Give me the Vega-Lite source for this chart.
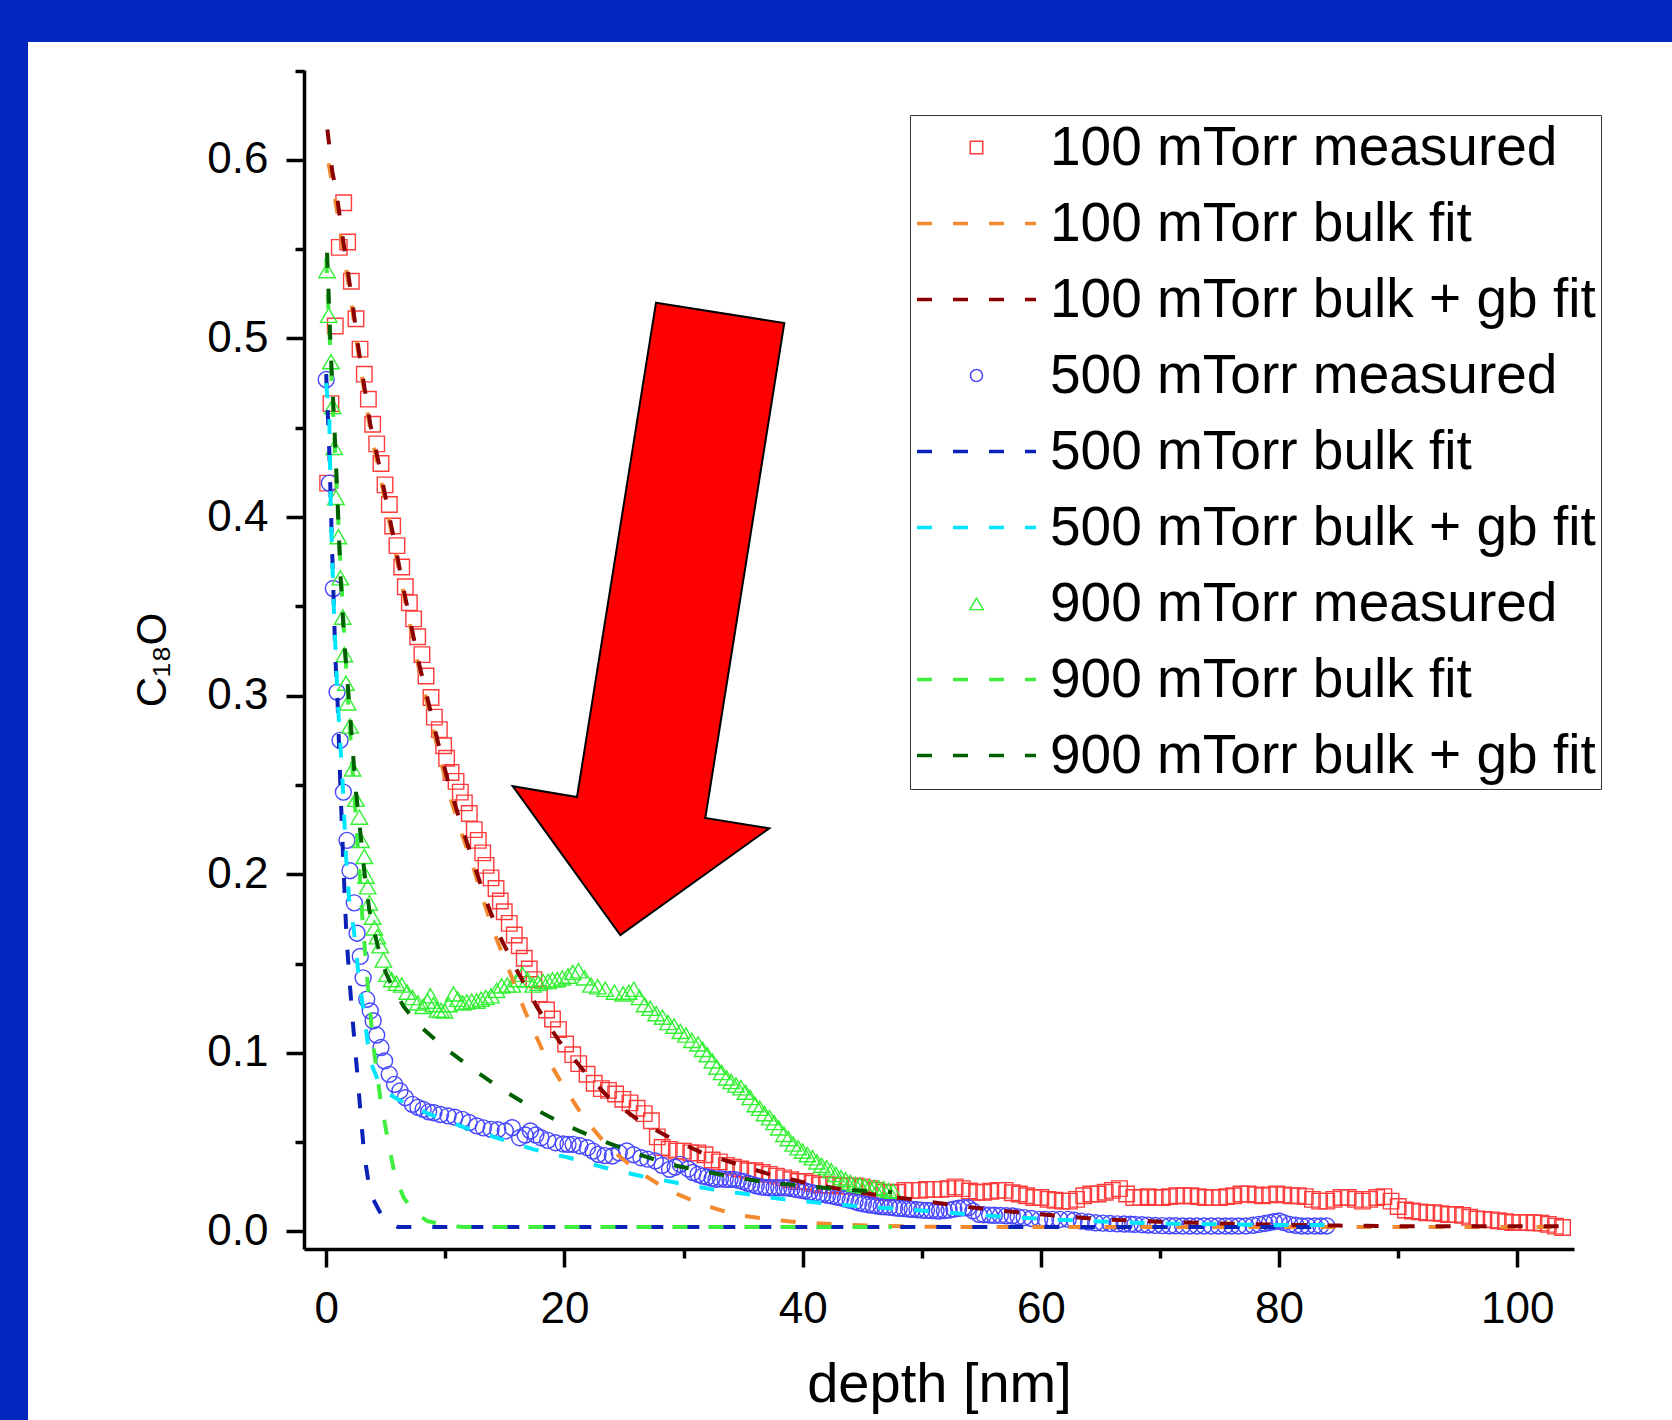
{
"$schema": "https://vega.github.io/schema/vega-lite/v6.json",
"background": "white",
"padding": 0,
"spacing": 0,
"config": {"view": {"stroke": null}, "font": "Liberation Sans"},
"hconcat": [
{"width": 28, "height": 1420, "data": {"values": []}, "mark": "point", "view": {"fill": "#0428bf", "stroke": null}},
{"spacing": 27, "vconcat": [
{"width": 1644, "height": 42, "data": {"values": []}, "mark": "point", "view": {"fill": "#0428bf", "stroke": null}},
{"spacing": 0, "hconcat": [
{"width": 103, "height": 10, "data": {"values": []}, "mark": "point", "view": {"stroke": null}},
{
"width": 1270, "height": 1179,
"resolve": {"axis": {"x": "independent", "y": "independent"}},
"layer": [
{
"data": {"values": [
{"s":"m1","d":0.12,"c":0.419},{"s":"m1","d":0.40,"c":0.4635},{"s":"m1","d":0.76,"c":0.507},{"s":"m1","d":1.10,"c":0.551},{"s":"m1","d":1.47,"c":0.576},{"s":"m1","d":1.80,"c":0.554},{"s":"m1","d":2.11,"c":0.532},{"s":"m1","d":2.50,"c":0.511},{"s":"m1","d":2.84,"c":0.494},{"s":"m1","d":3.20,"c":0.480},{"s":"m1","d":3.54,"c":0.466},{"s":"m1","d":3.90,"c":0.452},{"s":"m1","d":4.24,"c":0.441},{"s":"m1","d":4.60,"c":0.430},{"s":"m1","d":4.94,"c":0.418},{"s":"m1","d":5.30,"c":0.407},{"s":"m1","d":5.58,"c":0.395},{"s":"m1","d":5.94,"c":0.384},{"s":"m1","d":6.34,"c":0.372},{"s":"m1","d":6.64,"c":0.361},{"s":"m1","d":6.98,"c":0.352},{"s":"m1","d":7.34,"c":0.343},{"s":"m1","d":7.68,"c":0.333},{"s":"m1","d":8.04,"c":0.323},{"s":"m1","d":8.38,"c":0.311},{"s":"m1","d":8.80,"c":0.299},{"s":"m1","d":9.08,"c":0.288},{"s":"m1","d":9.50,"c":0.281},{"s":"m1","d":9.86,"c":0.272},{"s":"m1","d":10.11,"c":0.265},{"s":"m1","d":10.48,"c":0.257},{"s":"m1","d":10.9,"c":0.252},{"s":"m1","d":11.26,"c":0.246},{"s":"m1","d":11.6,"c":0.240},{"s":"m1","d":12.01,"c":0.234},{"s":"m1","d":12.43,"c":0.225},{"s":"m1","d":12.77,"c":0.219},{"s":"m1","d":13.14,"c":0.212},{"s":"m1","d":13.42,"c":0.205},{"s":"m1","d":13.84,"c":0.198},{"s":"m1","d":14.26,"c":0.192},{"s":"m1","d":14.62,"c":0.185},{"s":"m1","d":14.95,"c":0.179},{"s":"m1","d":15.37,"c":0.1725},{"s":"m1","d":15.79,"c":0.166},{"s":"m1","d":16.21,"c":0.160},{"s":"m1","d":16.63,"c":0.153},{"s":"m1","d":17.05,"c":0.147},{"s":"m1","d":17.44,"c":0.141},{"s":"m1","d":17.9,"c":0.133},{"s":"m1","d":18.5,"c":0.124},{"s":"m1","d":19.0,"c":0.119},{"s":"m1","d":19.5,"c":0.113},{"s":"m1","d":20.1,"c":0.105},{"s":"m1","d":20.7,"c":0.099},{"s":"m1","d":21.2,"c":0.094},{"s":"m1","d":21.9,"c":0.088},{"s":"m1","d":22.5,"c":0.083},{"s":"m1","d":23.1,"c":0.080},{"s":"m1","d":23.7,"c":0.079},{"s":"m1","d":24.3,"c":0.077},{"s":"m1","d":24.9,"c":0.074},{"s":"m1","d":25.5,"c":0.072},{"s":"m1","d":26.1,"c":0.069},{"s":"m1","d":26.7,"c":0.066},{"s":"m1","d":27.3,"c":0.062},{"s":"m1","d":27.8,"c":0.053},{"s":"m1","d":28.2,"c":0.047},{"s":"m1","d":28.8,"c":0.046},{"s":"m1","d":29.4,"c":0.045},{"s":"m1","d":30.0,"c":0.045},{"s":"m1","d":30.6,"c":0.044},{"s":"m1","d":31.2,"c":0.044},{"s":"m1","d":31.8,"c":0.043},{"s":"m1","d":32.4,"c":0.040},{"s":"m1","d":33.0,"c":0.039},{"s":"m1","d":33.6,"c":0.037},{"s":"m1","d":34.2,"c":0.036},{"s":"m1","d":34.8,"c":0.035},{"s":"m1","d":35.4,"c":0.034},{"s":"m1","d":36.0,"c":0.034},{"s":"m1","d":36.6,"c":0.033},{"s":"m1","d":37.2,"c":0.032},{"s":"m1","d":37.8,"c":0.031},{"s":"m1","d":38.4,"c":0.030},{"s":"m1","d":39.0,"c":0.029},{"s":"m1","d":39.6,"c":0.028},{"s":"m1","d":40.2,"c":0.028},{"s":"m1","d":40.8,"c":0.027},{"s":"m1","d":41.4,"c":0.026},{"s":"m1","d":42.0,"c":0.026},{"s":"m1","d":42.6,"c":0.026},{"s":"m1","d":43.2,"c":0.0255},{"s":"m1","d":43.8,"c":0.0255},{"s":"m1","d":44.4,"c":0.0255},{"s":"m1","d":45.0,"c":0.025},{"s":"m1","d":45.6,"c":0.024},{"s":"m1","d":46.2,"c":0.023},{"s":"m1","d":46.8,"c":0.022},{"s":"m1","d":47.4,"c":0.0217},{"s":"m1","d":48.0,"c":0.022},{"s":"m1","d":48.6,"c":0.023},{"s":"m1","d":49.2,"c":0.023},{"s":"m1","d":49.8,"c":0.023},{"s":"m1","d":50.4,"c":0.0236},{"s":"m1","d":51.0,"c":0.0236},{"s":"m1","d":51.6,"c":0.0236},{"s":"m1","d":52.2,"c":0.024},{"s":"m1","d":52.8,"c":0.025},{"s":"m1","d":53.4,"c":0.024},{"s":"m1","d":54.0,"c":0.0227},{"s":"m1","d":54.6,"c":0.022},{"s":"m1","d":55.2,"c":0.022},{"s":"m1","d":55.8,"c":0.0225},{"s":"m1","d":56.4,"c":0.023},{"s":"m1","d":57.0,"c":0.023},{"s":"m1","d":57.6,"c":0.0217},{"s":"m1","d":58.2,"c":0.021},{"s":"m1","d":58.8,"c":0.020},{"s":"m1","d":59.4,"c":0.019},{"s":"m1","d":60.0,"c":0.019},{"s":"m1","d":60.6,"c":0.018},{"s":"m1","d":61.2,"c":0.0175},{"s":"m1","d":61.8,"c":0.017},{"s":"m1","d":62.4,"c":0.017},{"s":"m1","d":63.0,"c":0.018},{"s":"m1","d":63.6,"c":0.020},{"s":"m1","d":64.2,"c":0.021},{"s":"m1","d":64.8,"c":0.021},{"s":"m1","d":65.4,"c":0.022},{"s":"m1","d":66.0,"c":0.023},{"s":"m1","d":66.6,"c":0.024},{"s":"m1","d":67.2,"c":0.021},{"s":"m1","d":67.8,"c":0.019},{"s":"m1","d":68.4,"c":0.019},{"s":"m1","d":69.0,"c":0.0195},{"s":"m1","d":69.6,"c":0.019},{"s":"m1","d":70.2,"c":0.019},{"s":"m1","d":70.8,"c":0.0195},{"s":"m1","d":71.4,"c":0.020},{"s":"m1","d":72.0,"c":0.020},{"s":"m1","d":72.6,"c":0.020},{"s":"m1","d":73.2,"c":0.0195},{"s":"m1","d":73.8,"c":0.019},{"s":"m1","d":74.4,"c":0.019},{"s":"m1","d":75.0,"c":0.019},{"s":"m1","d":75.6,"c":0.0195},{"s":"m1","d":76.2,"c":0.020},{"s":"m1","d":76.8,"c":0.021},{"s":"m1","d":77.4,"c":0.021},{"s":"m1","d":78.0,"c":0.0205},{"s":"m1","d":78.6,"c":0.020},{"s":"m1","d":79.2,"c":0.0205},{"s":"m1","d":79.8,"c":0.021},{"s":"m1","d":80.4,"c":0.0205},{"s":"m1","d":81.0,"c":0.020},{"s":"m1","d":81.6,"c":0.020},{"s":"m1","d":82.2,"c":0.0195},{"s":"m1","d":82.8,"c":0.018},{"s":"m1","d":83.4,"c":0.017},{"s":"m1","d":84.0,"c":0.017},{"s":"m1","d":84.6,"c":0.018},{"s":"m1","d":85.2,"c":0.019},{"s":"m1","d":85.8,"c":0.019},{"s":"m1","d":86.4,"c":0.018},{"s":"m1","d":87.0,"c":0.017},{"s":"m1","d":87.6,"c":0.018},{"s":"m1","d":88.2,"c":0.019},{"s":"m1","d":88.8,"c":0.0195},{"s":"m1","d":89.4,"c":0.017},{"s":"m1","d":90.0,"c":0.014},{"s":"m1","d":90.6,"c":0.012},{"s":"m1","d":91.2,"c":0.0115},{"s":"m1","d":91.8,"c":0.011},{"s":"m1","d":92.4,"c":0.0105},{"s":"m1","d":93.0,"c":0.0105},{"s":"m1","d":93.6,"c":0.010},{"s":"m1","d":94.2,"c":0.0095},{"s":"m1","d":94.8,"c":0.0095},{"s":"m1","d":95.4,"c":0.009},{"s":"m1","d":96.0,"c":0.008},{"s":"m1","d":96.6,"c":0.007},{"s":"m1","d":97.2,"c":0.0068},{"s":"m1","d":97.8,"c":0.0065},{"s":"m1","d":98.4,"c":0.006},{"s":"m1","d":99.0,"c":0.0055},{"s":"m1","d":99.6,"c":0.005},{"s":"m1","d":100.2,"c":0.005},{"s":"m1","d":100.8,"c":0.005},{"s":"m1","d":101.4,"c":0.0049},{"s":"m1","d":102.0,"c":0.0047},{"s":"m1","d":102.6,"c":0.004},{"s":"m1","d":103.2,"c":0.003},{"s":"m1","d":103.8,"c":0.0022},
{"s":"m5","d":0.0,"c":0.477},{"s":"m5","d":0.26,"c":0.419},{"s":"m5","d":0.6,"c":0.360},{"s":"m5","d":0.91,"c":0.302},{"s":"m5","d":1.16,"c":0.275},{"s":"m5","d":1.44,"c":0.246},{"s":"m5","d":1.75,"c":0.219},{"s":"m5","d":2.0,"c":0.202},{"s":"m5","d":2.36,"c":0.184},{"s":"m5","d":2.59,"c":0.167},{"s":"m5","d":2.86,"c":0.154},{"s":"m5","d":3.10,"c":0.142},{"s":"m5","d":3.40,"c":0.130},{"s":"m5","d":3.70,"c":0.1235},{"s":"m5","d":3.94,"c":0.118},{"s":"m5","d":4.24,"c":0.110},{"s":"m5","d":4.6,"c":0.103},{"s":"m5","d":4.9,"c":0.0955},{"s":"m5","d":5.29,"c":0.088},{"s":"m5","d":5.74,"c":0.0824},{"s":"m5","d":6.19,"c":0.0787},{"s":"m5","d":6.64,"c":0.0749},{"s":"m5","d":7.24,"c":0.0712},{"s":"m5","d":7.7,"c":0.0695},{"s":"m5","d":8.14,"c":0.0684},{"s":"m5","d":8.6,"c":0.067},{"s":"m5","d":9.04,"c":0.0665},{"s":"m5","d":9.6,"c":0.0655},{"s":"m5","d":10.23,"c":0.0647},{"s":"m5","d":10.8,"c":0.064},{"s":"m5","d":11.43,"c":0.0628},{"s":"m5","d":12.0,"c":0.061},{"s":"m5","d":12.64,"c":0.0591},{"s":"m5","d":13.2,"c":0.058},{"s":"m5","d":13.84,"c":0.0572},{"s":"m5","d":14.4,"c":0.057},{"s":"m5","d":15.04,"c":0.0563},{"s":"m5","d":15.63,"c":0.0581},{"s":"m5","d":16.24,"c":0.0525},{"s":"m5","d":16.7,"c":0.054},{"s":"m5","d":17.14,"c":0.0563},{"s":"m5","d":17.6,"c":0.054},{"s":"m5","d":18.03,"c":0.0525},{"s":"m5","d":18.6,"c":0.051},{"s":"m5","d":19.24,"c":0.0497},{"s":"m5","d":19.9,"c":0.049},{"s":"m5","d":20.3,"c":0.0488},{"s":"m5","d":20.73,"c":0.0488},{"s":"m5","d":21.3,"c":0.048},{"s":"m5","d":21.93,"c":0.0469},{"s":"m5","d":22.4,"c":0.045},{"s":"m5","d":22.83,"c":0.0432},{"s":"m5","d":23.4,"c":0.0425},{"s":"m5","d":24.03,"c":0.0423},{"s":"m5","d":24.6,"c":0.044},{"s":"m5","d":25.23,"c":0.0451},{"s":"m5","d":25.8,"c":0.043},{"s":"m5","d":26.43,"c":0.0413},{"s":"m5","d":27.0,"c":0.0405},{"s":"m5","d":27.63,"c":0.0395},{"s":"m5","d":28.2,"c":0.037},{"s":"m5","d":28.83,"c":0.0348},{"s":"m5","d":29.3,"c":0.036},{"s":"m5","d":29.73,"c":0.0376},{"s":"m5","d":30.4,"c":0.035},{"s":"m5","d":30.8,"c":0.033},{"s":"m5","d":31.22,"c":0.032},{"s":"m5","d":31.6,"c":0.031},{"s":"m5","d":32.0,"c":0.0305},{"s":"m5","d":32.4,"c":0.0298},{"s":"m5","d":32.73,"c":0.0292},{"s":"m5","d":33.1,"c":0.0295},{"s":"m5","d":33.5,"c":0.0292},{"s":"m5","d":33.9,"c":0.0292},{"s":"m5","d":34.23,"c":0.0292},{"s":"m5","d":34.6,"c":0.0286},{"s":"m5","d":35.0,"c":0.028},{"s":"m5","d":35.4,"c":0.027},{"s":"m5","d":35.72,"c":0.0264},{"s":"m5","d":36.1,"c":0.0256},{"s":"m5","d":36.5,"c":0.025},{"s":"m5","d":36.9,"c":0.0247},{"s":"m5","d":37.23,"c":0.0245},{"s":"m5","d":37.6,"c":0.0245},{"s":"m5","d":38.0,"c":0.0245},{"s":"m5","d":38.4,"c":0.0245},{"s":"m5","d":38.72,"c":0.0245},{"s":"m5","d":39.1,"c":0.024},{"s":"m5","d":39.5,"c":0.0235},{"s":"m5","d":39.9,"c":0.023},{"s":"m5","d":40.22,"c":0.0227},{"s":"m5","d":40.6,"c":0.022},{"s":"m5","d":41.0,"c":0.0215},{"s":"m5","d":41.4,"c":0.0211},{"s":"m5","d":41.72,"c":0.0208},{"s":"m5","d":42.1,"c":0.0203},{"s":"m5","d":42.5,"c":0.0198},{"s":"m5","d":42.9,"c":0.0193},{"s":"m5","d":43.22,"c":0.0189},{"s":"m5","d":43.6,"c":0.0182},{"s":"m5","d":44.0,"c":0.0175},{"s":"m5","d":44.4,"c":0.0168},{"s":"m5","d":44.72,"c":0.0161},{"s":"m5","d":45.1,"c":0.0155},{"s":"m5","d":45.5,"c":0.015},{"s":"m5","d":45.9,"c":0.0146},{"s":"m5","d":46.22,"c":0.0143},{"s":"m5","d":46.6,"c":0.014},{"s":"m5","d":46.9,"c":0.0138},{"s":"m5","d":47.3,"c":0.0136},{"s":"m5","d":47.72,"c":0.0133},{"s":"m5","d":48.1,"c":0.013},{"s":"m5","d":48.5,"c":0.0128},{"s":"m5","d":48.9,"c":0.0126},{"s":"m5","d":49.2,"c":0.0124},{"s":"m5","d":49.6,"c":0.0122},{"s":"m5","d":50.0,"c":0.012},{"s":"m5","d":50.4,"c":0.0118},{"s":"m5","d":50.8,"c":0.0117},{"s":"m5","d":51.2,"c":0.0116},{"s":"m5","d":51.5,"c":0.0115},{"s":"m5","d":51.9,"c":0.0117},{"s":"m5","d":52.3,"c":0.012},{"s":"m5","d":52.7,"c":0.0125},{"s":"m5","d":53.1,"c":0.013},{"s":"m5","d":53.5,"c":0.0133},{"s":"m5","d":53.9,"c":0.0133},{"s":"m5","d":54.3,"c":0.0115},{"s":"m5","d":54.8,"c":0.0096},{"s":"m5","d":55.2,"c":0.0094},{"s":"m5","d":55.7,"c":0.0092},{"s":"m5","d":56.1,"c":0.0091},{"s":"m5","d":56.6,"c":0.009},{"s":"m5","d":57.1,"c":0.0088},{"s":"m5","d":57.6,"c":0.0087},{"s":"m5","d":58.1,"c":0.0082},{"s":"m5","d":58.6,"c":0.0078},{"s":"m5","d":59.2,"c":0.0073},{"s":"m5","d":59.9,"c":0.0068},{"s":"m5","d":60.4,"c":0.0068},{"s":"m5","d":61.0,"c":0.0068},{"s":"m5","d":61.6,"c":0.0068},{"s":"m5","d":62.3,"c":0.0068},{"s":"m5","d":62.8,"c":0.0063},{"s":"m5","d":63.4,"c":0.0058},{"s":"m5","d":64.0,"c":0.0053},{"s":"m5","d":64.6,"c":0.0049},{"s":"m5","d":65.2,"c":0.0047},{"s":"m5","d":65.8,"c":0.0045},{"s":"m5","d":66.4,"c":0.0043},{"s":"m5","d":67.0,"c":0.0042},{"s":"m5","d":67.5,"c":0.0041},{"s":"m5","d":67.9,"c":0.004},{"s":"m5","d":68.5,"c":0.0038},{"s":"m5","d":69.0,"c":0.0036},{"s":"m5","d":69.6,"c":0.0034},{"s":"m5","d":70.2,"c":0.0033},{"s":"m5","d":70.8,"c":0.0032},{"s":"m5","d":71.3,"c":0.0032},{"s":"m5","d":71.9,"c":0.0031},{"s":"m5","d":72.5,"c":0.0031},{"s":"m5","d":73.1,"c":0.0031},{"s":"m5","d":73.7,"c":0.0031},{"s":"m5","d":74.3,"c":0.0031},{"s":"m5","d":74.9,"c":0.0031},{"s":"m5","d":75.5,"c":0.0031},{"s":"m5","d":76.0,"c":0.0031},{"s":"m5","d":76.6,"c":0.0031},{"s":"m5","d":77.2,"c":0.0031},{"s":"m5","d":77.8,"c":0.0035},{"s":"m5","d":78.3,"c":0.004},{"s":"m5","d":78.8,"c":0.0045},{"s":"m5","d":79.2,"c":0.005},{"s":"m5","d":79.6,"c":0.0055},{"s":"m5","d":80.0,"c":0.0059},{"s":"m5","d":80.4,"c":0.005},{"s":"m5","d":80.9,"c":0.004},{"s":"m5","d":81.4,"c":0.0035},{"s":"m5","d":81.9,"c":0.0031},{"s":"m5","d":82.4,"c":0.0031},{"s":"m5","d":83.0,"c":0.0031},{"s":"m5","d":83.5,"c":0.0031},{"s":"m5","d":84.0,"c":0.0031},
{"s":"m9","d":0.07,"c":0.538},{"s":"m9","d":0.21,"c":0.513},{"s":"m9","d":0.40,"c":0.487},{"s":"m9","d":0.54,"c":0.462},{"s":"m9","d":0.68,"c":0.439},{"s":"m9","d":0.82,"c":0.411},{"s":"m9","d":1.02,"c":0.389},{"s":"m9","d":1.19,"c":0.366},{"s":"m9","d":1.39,"c":0.344},{"s":"m9","d":1.52,"c":0.323},{"s":"m9","d":1.66,"c":0.307},{"s":"m9","d":1.80,"c":0.296},{"s":"m9","d":2.0,"c":0.283},{"s":"m9","d":2.22,"c":0.259},{"s":"m9","d":2.50,"c":0.242},{"s":"m9","d":2.78,"c":0.232},{"s":"m9","d":2.92,"c":0.219},{"s":"m9","d":3.20,"c":0.210},{"s":"m9","d":3.34,"c":0.199},{"s":"m9","d":3.48,"c":0.193},{"s":"m9","d":3.62,"c":0.184},{"s":"m9","d":3.9,"c":0.176},{"s":"m9","d":4.04,"c":0.170},{"s":"m9","d":4.3,"c":0.165},{"s":"m9","d":4.54,"c":0.160},{"s":"m9","d":4.8,"c":0.152},{"s":"m9","d":5.1,"c":0.144},{"s":"m9","d":5.5,"c":0.141},{"s":"m9","d":5.9,"c":0.139},{"s":"m9","d":6.34,"c":0.138},{"s":"m9","d":6.8,"c":0.134},{"s":"m9","d":7.24,"c":0.131},{"s":"m9","d":7.7,"c":0.128},{"s":"m9","d":8.14,"c":0.126},{"s":"m9","d":8.5,"c":0.129},{"s":"m9","d":8.74,"c":0.132},{"s":"m9","d":9.0,"c":0.127},{"s":"m9","d":9.34,"c":0.124},{"s":"m9","d":9.64,"c":0.1238},{"s":"m9","d":9.94,"c":0.1235},{"s":"m9","d":10.3,"c":0.127},{"s":"m9","d":10.69,"c":0.133},{"s":"m9","d":11.05,"c":0.130},{"s":"m9","d":11.44,"c":0.128},{"s":"m9","d":11.8,"c":0.1285},{"s":"m9","d":12.2,"c":0.129},{"s":"m9","d":12.64,"c":0.129},{"s":"m9","d":13.0,"c":0.130},{"s":"m9","d":13.4,"c":0.131},{"s":"m9","d":13.84,"c":0.132},{"s":"m9","d":14.3,"c":0.135},{"s":"m9","d":14.73,"c":0.1375},{"s":"m9","d":15.2,"c":0.138},{"s":"m9","d":15.63,"c":0.138},{"s":"m9","d":16.05,"c":0.141},{"s":"m9","d":16.47,"c":0.144},{"s":"m9","d":16.9,"c":0.141},{"s":"m9","d":17.37,"c":0.138},{"s":"m9","d":17.8,"c":0.139},{"s":"m9","d":18.2,"c":0.140},{"s":"m9","d":18.63,"c":0.140},{"s":"m9","d":19.0,"c":0.141},{"s":"m9","d":19.4,"c":0.141},{"s":"m9","d":19.83,"c":0.142},{"s":"m9","d":20.3,"c":0.143},{"s":"m9","d":20.7,"c":0.145},{"s":"m9","d":21.18,"c":0.146},{"s":"m9","d":21.7,"c":0.142},{"s":"m9","d":22.23,"c":0.138},{"s":"m9","d":22.8,"c":0.137},{"s":"m9","d":23.43,"c":0.1356},{"s":"m9","d":24.2,"c":0.134},{"s":"m9","d":24.93,"c":0.133},{"s":"m9","d":25.4,"c":0.134},{"s":"m9","d":25.83,"c":0.1356},{"s":"m9","d":26.3,"c":0.131},{"s":"m9","d":26.73,"c":0.127},{"s":"m9","d":27.2,"c":0.125},{"s":"m9","d":27.7,"c":0.122},{"s":"m9","d":28.23,"c":0.120},{"s":"m9","d":28.7,"c":0.117},{"s":"m9","d":29.2,"c":0.115},{"s":"m9","d":29.73,"c":0.112},{"s":"m9","d":30.2,"c":0.110},{"s":"m9","d":30.7,"c":0.107},{"s":"m9","d":31.22,"c":0.105},{"s":"m9","d":31.6,"c":0.102},{"s":"m9","d":32.0,"c":0.099},{"s":"m9","d":32.42,"c":0.0955},{"s":"m9","d":32.8,"c":0.092},{"s":"m9","d":33.2,"c":0.089},{"s":"m9","d":33.62,"c":0.086},{"s":"m9","d":34.0,"c":0.084},{"s":"m9","d":34.4,"c":0.082},{"s":"m9","d":34.83,"c":0.0805},{"s":"m9","d":35.2,"c":0.078},{"s":"m9","d":35.6,"c":0.075},{"s":"m9","d":36.03,"c":0.071},{"s":"m9","d":36.4,"c":0.069},{"s":"m9","d":36.8,"c":0.066},{"s":"m9","d":37.23,"c":0.0637},{"s":"m9","d":37.6,"c":0.061},{"s":"m9","d":38.0,"c":0.058},{"s":"m9","d":38.43,"c":0.0544},{"s":"m9","d":38.8,"c":0.052},{"s":"m9","d":39.2,"c":0.049},{"s":"m9","d":39.62,"c":0.0469},{"s":"m9","d":40.0,"c":0.045},{"s":"m9","d":40.4,"c":0.043},{"s":"m9","d":40.82,"c":0.0413},{"s":"m9","d":41.2,"c":0.039},{"s":"m9","d":41.6,"c":0.037},{"s":"m9","d":42.02,"c":0.0357},{"s":"m9","d":42.4,"c":0.034},{"s":"m9","d":42.8,"c":0.032},{"s":"m9","d":43.22,"c":0.0301},{"s":"m9","d":43.6,"c":0.029},{"s":"m9","d":44.0,"c":0.0275},{"s":"m9","d":44.42,"c":0.0264},{"s":"m9","d":44.8,"c":0.026},{"s":"m9","d":45.2,"c":0.0255},{"s":"m9","d":45.6,"c":0.025},{"s":"m9","d":46.0,"c":0.0247},{"s":"m9","d":46.4,"c":0.0244},{"s":"m9","d":46.8,"c":0.024},{"s":"m9","d":47.2,"c":0.023},{"s":"m9","d":47.6,"c":0.0225}
]},
"mark": {"type": "point", "filled": false, "strokeWidth": 1.4, "opacity": 1},
"encoding": {
"x": {"field": "d", "type": "quantitative", "scale": {"domain": [-1.864, 104.76], "nice": false, "zero": false},
 "axis": {"orient": "bottom", "values": [0, 20, 40, 60, 80, 100], "format": "d", "title": "depth [nm]", "grid": false, "tickSize": 18, "tickWidth": 3.5, "tickColor": "black", "domainColor": "black", "domainWidth": 3.5, "labelFont": "Liberation Sans", "labelFontSize": 44, "labelColor": "black", "labelPadding": 20, "titleFont": "Liberation Sans", "titleFontSize": 56, "titleFontWeight": "normal", "titleColor": "black", "titlePadding": 26}},
"y": {"field": "c", "type": "quantitative", "scale": {"domain": [-0.0098, 0.6503], "nice": false, "zero": false},
 "axis": {"orient": "left", "values": [0, 0.1, 0.2, 0.3, 0.4, 0.5, 0.6], "format": ".1f", "title": "C₁₈O", "grid": false, "tickSize": 18, "tickWidth": 3.5, "tickColor": "black", "domainColor": "black", "domainWidth": 3.5, "labelFont": "Liberation Sans", "labelFontSize": 44, "labelColor": "black", "labelPadding": 18, "titleFont": "Liberation Sans", "titleFontSize": 42, "titleFontWeight": "normal", "titleColor": "black", "titlePadding": 32}},
"color": {"field": "s", "type": "nominal",
 "scale": {"domain": ["m1", "b1", "g1", "m5", "b5", "g5", "m9", "b9", "g9"], "range": ["#ff3c3c", "#f28a30", "#8b0000", "#4646ff", "#0a22b8", "#00e6ff", "#33f033", "#40ee40", "#006000"]},
 "legend": {"orient": "none", "legendX": 910, "legendY": 115, "title": null, "padding": 5, "fillColor": "white", "strokeColor": "#333333",
  "symbolSize": 2500, "symbolStrokeWidth": 3.5, "symbolType": "stroke",
  "labelFont": "Liberation Sans", "labelFontSize": 55, "labelColor": "black", "labelLimit": 1000, "labelOffset": 80, "rowPadding": 20,
  "labelExpr": "datum.value=='m1'?'100 mTorr measured':datum.value=='b1'?'100 mTorr bulk fit':datum.value=='g1'?'100 mTorr bulk + gb fit':datum.value=='m5'?'500 mTorr measured':datum.value=='b5'?'500 mTorr bulk fit':datum.value=='g5'?'500 mTorr bulk + gb fit':datum.value=='m9'?'900 mTorr measured':datum.value=='b9'?'900 mTorr bulk fit':'900 mTorr bulk + gb fit'",
  "encoding": {
   "symbols": {
    "shape": {"value": {"expr": "datum.value=='m1' ? 'M 1.08 -0.28 L 1.64 -0.28 L 1.64 0.28 L 1.08 0.28 Z M 1.14 -0.22 L 1.14 0.22 L 1.58 0.22 L 1.58 -0.22 Z' : datum.value=='m5' ? 'M 1.63 0 A 0.27 0.27 0 1 1 1.09 0 A 0.27 0.27 0 1 1 1.63 0 Z M 1.57 0 A 0.21 0.21 0 1 0 1.15 0 A 0.21 0.21 0 1 0 1.57 0 Z' : datum.value=='m9' ? 'M 1.36 -0.27 L 1.68 0.27 L 1.04 0.27 Z M 1.36 -0.16 L 1.14 0.22 L 1.58 0.22 Z' : 'M -1.02 0 L 3.74 0'"}},
    "fill": {"value": {"expr": "datum.value=='m1' ? '#ff3c3c' : datum.value=='m5' ? '#4646ff' : datum.value=='m9' ? '#33f033' : 'transparent'"}},
    "strokeOpacity": {"value": {"expr": "indexof(datum.value,'m')==0 ? 0 : 1"}},
    "strokeDash": {"value": [15, 21]}
   }
  }
 }},
"shape": {"field": "s", "type": "nominal", "scale": {"domain": ["m1", "m5", "m9"], "range": ["square", "circle", "triangle-up"]}, "legend": null},
"size": {"field": "s", "type": "ordinal", "scale": {"domain": ["m1", "m5", "m9"], "range": [240, 270, 420]}, "legend": null}
}
},
{
"data": {"values": [
{"s":"b1","d":0.2,"c":0.598},{"s":"b1","d":0.5,"c":0.587},{"s":"b1","d":0.9,"c":0.572},{"s":"b1","d":1.3,"c":0.555},{"s":"b1","d":1.7,"c":0.538},{"s":"b1","d":2.2,"c":0.516},{"s":"b1","d":2.65,"c":0.494},{"s":"b1","d":3.2,"c":0.47},{"s":"b1","d":3.7,"c":0.449},{"s":"b1","d":4.46,"c":0.425},{"s":"b1","d":5.1,"c":0.404},{"s":"b1","d":5.78,"c":0.382},{"s":"b1","d":6.42,"c":0.36},{"s":"b1","d":7.12,"c":0.337},{"s":"b1","d":7.82,"c":0.314},{"s":"b1","d":8.6,"c":0.292},{"s":"b1","d":9.41,"c":0.269},{"s":"b1","d":10.28,"c":0.246},{"s":"b1","d":11.26,"c":0.225},{"s":"b1","d":12.3,"c":0.205},{"s":"b1","d":13.14,"c":0.1865},{"s":"b1","d":14.11,"c":0.167},{"s":"b1","d":15.37,"c":0.146},{"s":"b1","d":16.68,"c":0.1235},{"s":"b1","d":18.19,"c":0.101},{"s":"b1","d":19.83,"c":0.0824},{"s":"b1","d":21.63,"c":0.0637},{"s":"b1","d":23.73,"c":0.0469},{"s":"b1","d":26.13,"c":0.0339},{"s":"b1","d":28.83,"c":0.0227},{"s":"b1","d":31.53,"c":0.0152},{"s":"b1","d":34.23,"c":0.0096},{"s":"b1","d":37.23,"c":0.0068},{"s":"b1","d":40.0,"c":0.005},{"s":"b1","d":43.0,"c":0.004},{"s":"b1","d":46.0,"c":0.0032},{"s":"b1","d":50.0,"c":0.0027},{"s":"b1","d":55.0,"c":0.0025},{"s":"b1","d":104.5,"c":0.0025},
{"s":"g1","d":0.1,"c":0.617},{"s":"g1","d":0.5,"c":0.594},{"s":"g1","d":0.9,"c":0.58},{"s":"g1","d":1.3,"c":0.56},{"s":"g1","d":1.7,"c":0.543},{"s":"g1","d":2.2,"c":0.52},{"s":"g1","d":2.65,"c":0.497},{"s":"g1","d":3.2,"c":0.473},{"s":"g1","d":3.7,"c":0.452},{"s":"g1","d":4.46,"c":0.4286},{"s":"g1","d":5.1,"c":0.407},{"s":"g1","d":5.78,"c":0.3847},{"s":"g1","d":6.42,"c":0.362},{"s":"g1","d":7.12,"c":0.3397},{"s":"g1","d":7.82,"c":0.3172},{"s":"g1","d":8.6,"c":0.2957},{"s":"g1","d":9.41,"c":0.2732},{"s":"g1","d":10.28,"c":0.2507},{"s":"g1","d":11.26,"c":0.2293},{"s":"g1","d":12.24,"c":0.209},{"s":"g1","d":13.42,"c":0.1854},{"s":"g1","d":14.6,"c":0.165},{"s":"g1","d":15.94,"c":0.147},{"s":"g1","d":17.73,"c":0.1253},{"s":"g1","d":19.54,"c":0.1067},{"s":"g1","d":21.63,"c":0.0899},{"s":"g1","d":23.73,"c":0.0749},{"s":"g1","d":26.28,"c":0.0619},{"s":"g1","d":28.83,"c":0.0525},{"s":"g1","d":31.53,"c":0.0441},{"s":"g1","d":34.53,"c":0.0376},{"s":"g1","d":37.23,"c":0.032},{"s":"g1","d":40.22,"c":0.0273},{"s":"g1","d":44.5,"c":0.022},{"s":"g1","d":49.2,"c":0.018},{"s":"g1","d":52.2,"c":0.0152},{"s":"g1","d":55.5,"c":0.0124},{"s":"g1","d":58.5,"c":0.0105},{"s":"g1","d":61.5,"c":0.0087},{"s":"g1","d":65.0,"c":0.0068},{"s":"g1","d":70.0,"c":0.0055},{"s":"g1","d":75.0,"c":0.0045},{"s":"g1","d":80.0,"c":0.0038},{"s":"g1","d":85.0,"c":0.0033},{"s":"g1","d":90.0,"c":0.003},{"s":"g1","d":104.5,"c":0.003},
{"s":"b5","d":0.0,"c":0.48},{"s":"b5","d":0.26,"c":0.437},{"s":"b5","d":0.46,"c":0.39},{"s":"b5","d":0.77,"c":0.321},{"s":"b5","d":0.96,"c":0.296},{"s":"b5","d":1.18,"c":0.251},{"s":"b5","d":1.44,"c":0.206},{"s":"b5","d":1.7,"c":0.165},{"s":"b5","d":2.0,"c":0.137},{"s":"b5","d":2.29,"c":0.113},{"s":"b5","d":2.59,"c":0.09},{"s":"b5","d":2.89,"c":0.066},{"s":"b5","d":3.19,"c":0.043},{"s":"b5","d":3.64,"c":0.024},{"s":"b5","d":3.95,"c":0.018},{"s":"b5","d":4.5,"c":0.011},{"s":"b5","d":5.08,"c":0.0059},{"s":"b5","d":6.02,"c":0.0025},{"s":"b5","d":84.0,"c":0.0025},
{"s":"g5","d":0.0,"c":0.475},{"s":"g5","d":0.26,"c":0.454},{"s":"g5","d":0.4,"c":0.40},{"s":"g5","d":0.68,"c":0.341},{"s":"g5","d":0.96,"c":0.298},{"s":"g5","d":1.38,"c":0.251},{"s":"g5","d":1.66,"c":0.21},{"s":"g5","d":1.94,"c":0.185},{"s":"g5","d":2.3,"c":0.17},{"s":"g5","d":2.7,"c":0.145},{"s":"g5","d":3.1,"c":0.125},{"s":"g5","d":3.5,"c":0.105},{"s":"g5","d":3.9,"c":0.092},{"s":"g5","d":4.5,"c":0.082},{"s":"g5","d":5.0,"c":0.078},{"s":"g5","d":6.0,"c":0.074},{"s":"g5","d":8.7,"c":0.0656},{"s":"g5","d":11.7,"c":0.058},{"s":"g5","d":14.7,"c":0.0516},{"s":"g5","d":17.4,"c":0.046},{"s":"g5","d":20.4,"c":0.0413},{"s":"g5","d":23.4,"c":0.0357},{"s":"g5","d":26.4,"c":0.0311},{"s":"g5","d":29.4,"c":0.0273},{"s":"g5","d":32.4,"c":0.0236},{"s":"g5","d":35.4,"c":0.0208},{"s":"g5","d":38.4,"c":0.018},{"s":"g5","d":41.4,"c":0.0161},{"s":"g5","d":44.4,"c":0.0143},{"s":"g5","d":47.4,"c":0.013},{"s":"g5","d":50.5,"c":0.0115},{"s":"g5","d":53.9,"c":0.0096},{"s":"g5","d":57.4,"c":0.008},{"s":"g5","d":60.9,"c":0.0068},{"s":"g5","d":64.4,"c":0.0057},{"s":"g5","d":67.9,"c":0.0049},{"s":"g5","d":71.4,"c":0.0044},{"s":"g5","d":74.9,"c":0.004},{"s":"g5","d":78.4,"c":0.0037},{"s":"g5","d":81.9,"c":0.0036},{"s":"g5","d":84.0,"c":0.0036},
{"s":"b9","d":0.0,"c":0.545},{"s":"b9","d":0.5,"c":0.47},{"s":"b9","d":1.0,"c":0.40},{"s":"b9","d":1.5,"c":0.335},{"s":"b9","d":2.0,"c":0.28},{"s":"b9","d":2.4,"c":0.24},{"s":"b9","d":2.78,"c":0.203},{"s":"b9","d":3.04,"c":0.175},{"s":"b9","d":3.49,"c":0.138},{"s":"b9","d":3.94,"c":0.105},{"s":"b9","d":4.54,"c":0.075},{"s":"b9","d":5.14,"c":0.0525},{"s":"b9","d":5.74,"c":0.032},{"s":"b9","d":6.5,"c":0.019},{"s":"b9","d":7.33,"c":0.0115},{"s":"b9","d":8.45,"c":0.0059},{"s":"b9","d":10.33,"c":0.0031},{"s":"b9","d":11.5,"c":0.0025},{"s":"b9","d":47.5,"c":0.0025},
{"s":"g9","d":0.07,"c":0.548},{"s":"g9","d":0.4,"c":0.49},{"s":"g9","d":0.68,"c":0.452},{"s":"g9","d":0.96,"c":0.408},{"s":"g9","d":1.18,"c":0.37},{"s":"g9","d":1.52,"c":0.33},{"s":"g9","d":1.94,"c":0.295},{"s":"g9","d":2.22,"c":0.27},{"s":"g9","d":2.5,"c":0.2464},{"s":"g9","d":2.86,"c":0.224},{"s":"g9","d":3.2,"c":0.2015},{"s":"g9","d":3.62,"c":0.18},{"s":"g9","d":4.32,"c":0.16},{"s":"g9","d":5.0,"c":0.145},{"s":"g9","d":5.59,"c":0.1365},{"s":"g9","d":6.5,"c":0.126},{"s":"g9","d":7.69,"c":0.116},{"s":"g9","d":9.94,"c":0.1029},{"s":"g9","d":12.34,"c":0.0908},{"s":"g9","d":14.73,"c":0.0796},{"s":"g9","d":17.29,"c":0.0693},{"s":"g9","d":19.98,"c":0.06},{"s":"g9","d":22.83,"c":0.0516},{"s":"g9","d":25.83,"c":0.0441},{"s":"g9","d":28.83,"c":0.0376},{"s":"g9","d":31.53,"c":0.0339},{"s":"g9","d":34.53,"c":0.0301},{"s":"g9","d":37.23,"c":0.0273},{"s":"g9","d":40.22,"c":0.0255},{"s":"g9","d":43.22,"c":0.0236},{"s":"g9","d":46.22,"c":0.0223},{"s":"g9","d":47.5,"c":0.022}
]},
"mark": {"type": "line", "strokeDash": [15, 21], "strokeWidth": 4},
"encoding": {
"x": {"field": "d", "type": "quantitative", "axis": null},
"y": {"field": "c", "type": "quantitative", "axis": null},
"color": {"field": "s", "type": "nominal"}
}
},
{
"data": {"values": [{"d": 27.06, "c": 0.343}]},
"mark": {"type": "point", "shape": "M 0.0237 -1 L 0.4295 -0.9355 L 0.1797 0.6296 L 0.3821 0.6625 L -0.0892 1 L -0.4295 0.5293 L -0.2262 0.5635 Z", "size": 399803, "filled": true, "fill": "#ff0000", "stroke": "black", "strokeWidth": 2, "opacity": 1},
"encoding": {
"x": {"field": "d", "type": "quantitative", "axis": {"orient": "bottom", "values": [10, 30, 50, 70, 90], "labels": false, "domain": false, "grid": false, "title": null, "tickSize": 9, "tickWidth": 3.5, "tickColor": "black"}},
"y": {"field": "c", "type": "quantitative", "axis": {"orient": "left", "values": [0.05, 0.15, 0.25, 0.35, 0.45, 0.55, 0.65], "labels": false, "domain": false, "grid": false, "title": null, "tickSize": 9, "tickWidth": 3.5, "tickColor": "black"}}
}
}
]
}
]}
]}
]
}
